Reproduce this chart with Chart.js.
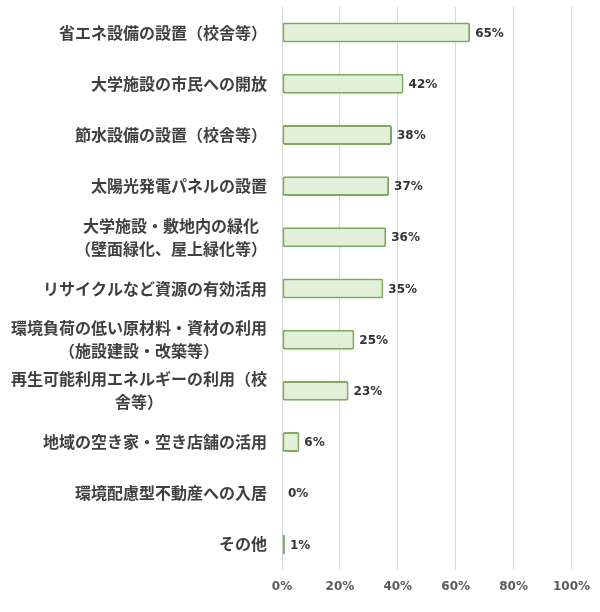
<!DOCTYPE html>
<html>
<head>
<meta charset="utf-8">
<script src="https://cdn.jsdelivr.net/npm/chart.js@4"></script>
<style>
html,body{margin:0;padding:0;background:#fff;}
#wrap{width:600px;height:612px;position:relative;}
</style>
</head>
<body>
<div id="wrap"><canvas id="c"></canvas></div>
<script>
const categories = [
  "省エネ設備の設置（校舎等）",
  "大学施設の市民への開放",
  "節水設備の設置（校舎等）",
  "太陽光発電パネルの設置",
  ["大学施設・敷地内の緑化", "（壁面緑化、屋上緑化等）"],
  "リサイクルなど資源の有効活用",
  ["環境負荷の低い原材料・資材の利用", "（施設建設・改築等）"],
  ["再生可能利用エネルギーの利用（校", "舎等）"],
  "地域の空き家・空き店舗の活用",
  "環境配慮型不動産への入居",
  "その他"
];
const values = [65, 42, 38, 37, 36, 35, 25, 23, 6, 0, 1];
const tickValues = [0, 20, 40, 60, 80, 100];

const labelFont = 'bold 16px "Noto Sans CJK JP", sans-serif';

const catLabels = {
  id: 'catLabels',
  afterDraw(chart) {
    const ctx = chart.ctx;
    const y = chart.scales.y;
    const right = chart.chartArea.left - 15;
    ctx.save();
    ctx.font = labelFont;
    ctx.fillStyle = '#404040';
    ctx.textAlign = 'center';
    ctx.textBaseline = 'middle';
    const lh = 23;
    categories.forEach((lab, i) => {
      const lines = Array.isArray(lab) ? lab : [lab];
      const w = Math.max(...lines.map(l => ctx.measureText(l).width));
      const cx = right - w / 2;
      const cy = y.getPixelForValue(i);
      const start = cy - (lines.length - 1) * lh / 2;
      lines.forEach((l, k) => ctx.fillText(l, cx, start + k * lh));
    });
    ctx.restore();
  }
};

const valueLabels = {
  id: 'valueLabels',
  afterDatasetsDraw(chart) {
    const ctx = chart.ctx;
    const meta = chart.getDatasetMeta(0);
    ctx.save();
    ctx.font = 'bold 12px "DejaVu Sans", sans-serif';
    ctx.fillStyle = '#333333';
    ctx.textAlign = 'left';
    ctx.textBaseline = 'middle';
    meta.data.forEach((bar, i) => {
      const x = values[i] === 0 ? bar.x + 6 : bar.x + 5;
      ctx.fillText(values[i] + '%', x, bar.y + 1);
    });
    ctx.restore();
  }
};

new Chart(document.getElementById('c'), {
  type: 'bar',
  data: {
    labels: categories,
    datasets: [{
      data: values,
      backgroundColor: '#e2efd9',
      borderColor: '#7eaa5e',
      borderWidth: 2,
      borderRadius: 2,
      borderSkipped: false,
      barPercentage: 0.78,
      categoryPercentage: 0.5
    }]
  },
  options: {
    indexAxis: 'y',
    responsive: true,
    maintainAspectRatio: false,
    animation: false,
    layout: { padding: { top: 7, right: 25, left: 0, bottom: 0 } },
    plugins: { legend: { display: false }, tooltip: { enabled: false } },
    scales: {
      x: {
        min: 0, max: 100,
        afterBuildTicks(scale) { scale.ticks = tickValues.map(v => ({ value: v })); },
        ticks: {
          callback: v => v + '%',
          font: { family: '"DejaVu Sans", sans-serif', size: 12, weight: 'bold' },
          color: '#595959',
          padding: 10
        },
        grid: { color: '#d9d9d9', lineWidth: 1, drawTicks: false },
        border: { display: false },
        afterFit(scale) { scale.height = 42; }
      },
      y: {
        ticks: { display: false },
        grid: { display: false, drawTicks: false },
        border: { display: false },
        afterFit(scale) { scale.width = 282; }
      }
    }
  },
  plugins: [catLabels, valueLabels]
});
</script>
</body>
</html>
